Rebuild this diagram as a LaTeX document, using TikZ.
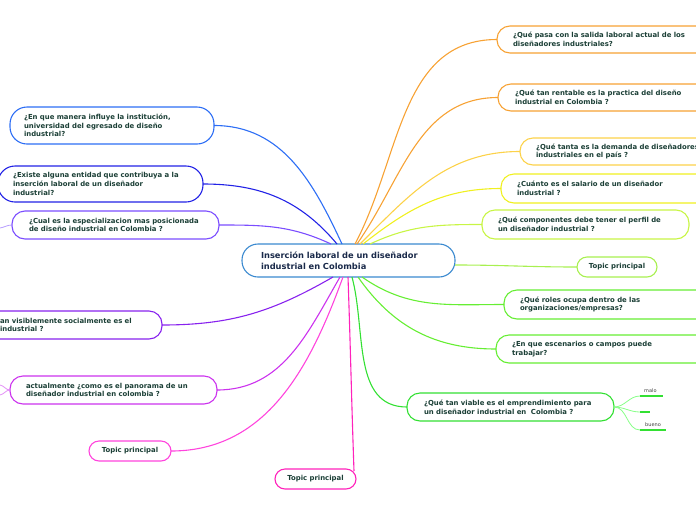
\documentclass[tikz,border=0pt]{standalone}
\usepackage{fontspec}
\setmainfont{DejaVu Sans}
\definecolor{txt}{HTML}{1B3F36}
\definecolor{ctxt}{HTML}{1A2A4A}
\definecolor{cbl}{HTML}{3B8AD0}
\definecolor{or}{HTML}{F7A234}
\definecolor{gd}{HTML}{FCD24A}
\definecolor{ye}{HTML}{F0F020}
\definecolor{yg}{HTML}{C8F545}
\definecolor{lg}{HTML}{A8F050}
\definecolor{gr}{HTML}{66EE33}
\definecolor{gr2}{HTML}{33E033}
\definecolor{lf}{HTML}{88FF88}
\definecolor{bl}{HTML}{2D6EF5}
\definecolor{bv}{HTML}{2222E6}
\definecolor{vi}{HTML}{7B4DFF}
\definecolor{pu}{HTML}{8822EE}
\definecolor{mp}{HTML}{CC33EE}
\definecolor{ma}{HTML}{FF44DD}
\definecolor{pk}{HTML}{FF22BB}
\begin{document}
\begin{tikzpicture}[x=1pt,y=1pt,
  box/.style={draw=#1, line width=1.1pt, fill=white, rounded corners=13pt,
    font=\fontsize{6.9}{8.6}\selectfont\bfseries, text=txt, align=left,
    inner ysep=0pt, outer sep=0pt},
  tbox/.style={box=#1, rounded corners=10pt, align=center, minimum height=20pt,
    text width=60pt, inner xsep=0pt},
  link/.style={draw=#1, line width=1.1pt},
  leaf/.style={draw=gr2, line width=1.6pt},
  lbl/.style={font=\fontsize{5}{6}\selectfont, text=black!75, inner sep=0pt}]
\useasboundingbox (0,0) rectangle (696,-520);
% central
\node[box=cbl, rounded corners=16pt, minimum height=33pt, text width=175pt, inner xsep=19pt,
  font=\fontsize{8.3}{10.8}\selectfont\bfseries, text=ctxt] (c) at (348.5,-260.5)
  {Inserción laboral de un diseñador\\industrial en Colombia};
% right nodes
\node[box=or, minimum height=27pt, text width=191pt, inner xsep=16pt] (r1) at (608.5,-39.5)
  {¿Qué pasa con la salida laboral actual de los\\diseñadores industriales?};
\node[box=or, minimum height=27pt, text width=188pt, inner xsep=17pt] (r2) at (609,-97.5)
  {¿Qué tan rentable es la practica del diseño\\industrial en Colombia ?};
\node[box=gd, minimum height=27pt, text width=178pt, inner xsep=16pt] (r3) at (625,-151.5)
  {¿Qué tanta es la demanda de diseñadores\\industriales en el país ?};
\node[box=ye, minimum height=29pt, text width=187pt, inner xsep=16pt] (r4) at (610.5,-188.5)
  {¿Cuánto es el salario de un diseñador\\industrial ?};
\node[box=yg, minimum height=29pt, text width=175pt, inner xsep=16pt] (r5) at (585.5,-224.5)
  {¿Qué componentes debe tener el perfil de\\un diseñador industrial ?};
\node[tbox=lg, text width=80pt] (r6) at (617,-267) {Topic principal};
\node[box=gr, minimum height=29pt, text width=184pt, inner xsep=16pt] (r7) at (612,-304.5)
  {¿Qué roles ocupa dentro de las\\organizaciones/empresas?};
\node[box=gr, minimum height=28pt, text width=192pt, inner xsep=16pt] (r8) at (608,-349)
  {¿En que escenarios o campos puede\\trabajar?};
\node[box=gr2, minimum height=28pt, text width=173pt, inner xsep=17pt] (r9) at (510.5,-407)
  {¿Qué tan viable es el emprendimiento para\\un diseñador industrial en\ \ Colombia ?};
% left nodes
\node[box=bl, rounded corners=17pt, minimum height=37pt, text width=176pt, inner xsep=14pt] (l1) at (112,-125.5)
  {¿En que manera influye la institución,\\universidad del egresado de diseño\\industrial?};
\node[box=bv, rounded corners=17pt, minimum height=36pt, text width=175pt, inner xsep=15pt] (l2) at (100.5,-184)
  {¿Existe alguna entidad que contribuya a la\\inserción laboral de un diseñador\\industrial?};
\node[box=vi, minimum height=28pt, text width=173pt, inner xsep=17pt] (l3) at (115.5,-225)
  {¿Cual es la especializacion mas posicionada\\de diseño industrial en Colombia ?};
\node[box=pu, minimum height=28pt, text width=146pt, inner xsep=16pt] (l4) at (73,-325)
  {an visiblemente socialmente es el\\industrial ?};
\node[box=mp, minimum height=28pt, text width=175pt, inner xsep=16pt] (l5) at (113.5,-390)
  {actualmente ¿como es el panorama de un\\diseñador industrial en colombia ?};
\node[tbox=ma, text width=82pt] (l6) at (130,-451) {Topic principal};
\node[tbox=pk, text width=81pt] (bt) at (315.5,-479) {Topic principal};
% start coordinates on central node
\coordinate (s1) at (355,-244);
\coordinate (s2) at (357,-244);
\coordinate (s3) at (360,-244);
\coordinate (s4) at (363,-244);
\coordinate (s5) at (370,-244);
\coordinate (s6) at (455,-265);
\coordinate (s7) at (362,-277);
\coordinate (s8) at (358,-277);
\coordinate (s9) at (352,-277);
\coordinate (t1) at (342,-244);
\coordinate (t2) at (337,-244);
\coordinate (t3) at (331,-244);
\coordinate (t4) at (333,-277);
\coordinate (t5) at (340,-277);
\coordinate (t6) at (343,-277);
\coordinate (t7) at (348,-277);
\coordinate (bte) at (354,-471);
% connectors right
\draw[link=or] (s1) to[out=62,in=180] (r1.west);
\draw[link=or] (s2) to[out=55,in=180] (r2.west);
\draw[link=gd] (s3) to[out=45,in=180] (r3.west);
\draw[link=ye] (s4) to[out=38,in=180] (r4.west);
\draw[link=yg] (s5) to[out=25,in=180] (r5.west);
\draw[link=lg] (s6) to[out=0,in=180] (r6.west);
\draw[link=gr] (s7) to[out=-35,in=180] (r7.west);
\draw[link=gr] (s8) to[out=-55,in=180] (r8.west);
\draw[link=gr2] (s9) to[out=-75,in=180] (r9.west);
% connectors left
\draw[link=bl] (t1) to[out=115,in=0] (l1.east);
\draw[link=bv] (t2) to[out=130,in=0] (l2.east);
\draw[link=vi] (t3) to[out=155,in=0] (l3.east);
\draw[link=pu] (t4) to[out=-150,in=0] (l4.east);
\draw[link=mp] (t5) to[out=-120,in=0] (l5.east);
\draw[link=ma] (t6) to[out=-110,in=0] (l6.east);
\draw[link=pk] (t7) to[out=-88,in=92] (bte);
% stubs on left edge
\coordinate (x1) at (0,-228);
\coordinate (x2) at (0,-385);
\coordinate (x3) at (0,-395);
\draw[draw=vi!55, line width=0.8pt] (x1) to[out=10,in=180] (l3.west);
\draw[draw=mp!55, line width=0.8pt] (x2) to[out=-10,in=180] (l5.west);
\draw[draw=mp!55, line width=0.8pt] (x3) to[out=10,in=180] (l5.west);
% sub-branches of r9
\coordinate (a1) at (640,-396); \coordinate (a2) at (663,-396);
\coordinate (b1) at (640,-412); \coordinate (b2) at (650,-412);
\coordinate (c1) at (640,-430); \coordinate (c2) at (666,-430);
\draw[draw=lf, line width=0.8pt] (r9.east) to[out=0,in=180] (a1);
\draw[draw=lf, line width=0.8pt] (r9.east) to[out=0,in=180] (b1);
\draw[draw=lf, line width=0.8pt] (r9.east) to[out=0,in=180] (c1);
\draw[leaf] (a1) -- (a2);
\draw[leaf] (b1) -- (b2);
\draw[leaf] (c1) -- (c2);
\node[lbl, anchor=south west] (tm) at (644,-393) {malo};
\node[lbl, anchor=south west] (tb) at (645,-427) {bueno};
\end{tikzpicture}
\end{document}
